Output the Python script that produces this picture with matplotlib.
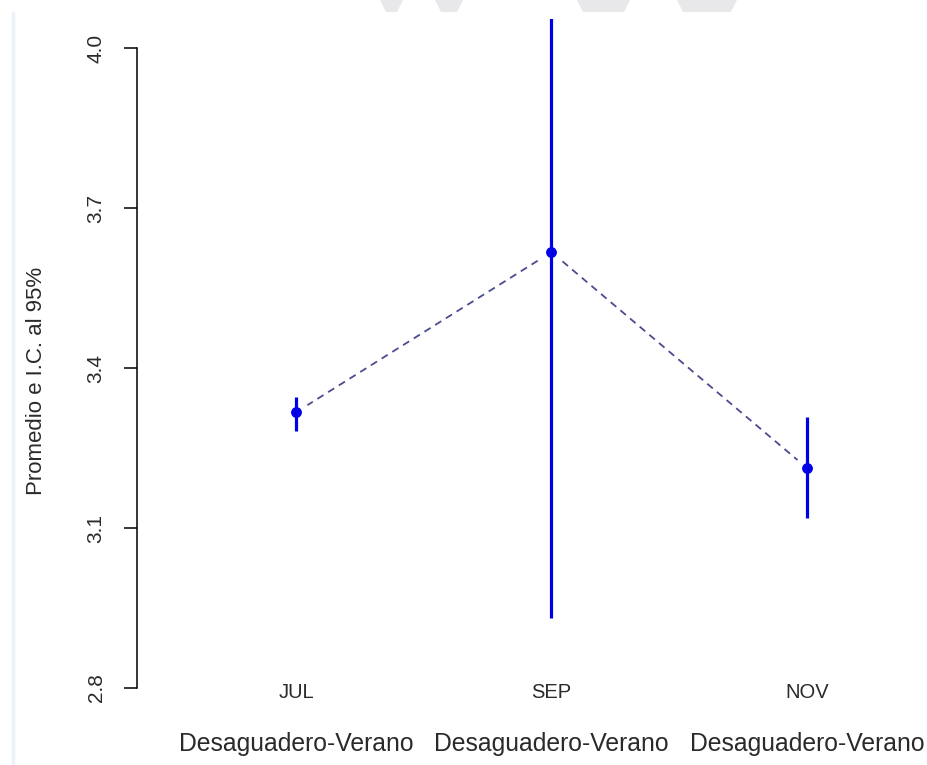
"""
Mean and 95% CI of the Desaguadero summer samples by month.
"""

import matplotlib.pyplot as plt
from matplotlib.patches import Polygon
from matplotlib.lines import Line2D

plt.rcParams["font.family"] = ["Liberation Sans", "DejaVu Sans"]

# --------------------------------------------------
# DATA
# --------------------------------------------------
months = ["JUL", "SEP", "NOV"]
groups = ["Desaguadero-Verano", "Desaguadero-Verano", "Desaguadero-Verano"]
means = [3.317, 3.6175, 3.2125]
ci_low = [3.282, 2.931, 3.119]
ci_high = [3.346, 4.060, 3.308]
y_ticks = [2.8, 3.1, 3.4, 3.7, 4.0]

BAR_COLOR = "#0000e8"
LINE_COLOR = "#4b4b8f"
TEXT_COLOR = "#2a2a2a"

fig = plt.figure(figsize=(9.28, 7.65), dpi=100)
ax = fig.add_axes([0.1476, 0.085, 0.8524, 0.890])

x = list(range(1, len(months) + 1))

# connecting dashed line, with a gap cut around each mean
ax.plot(x, means, color=LINE_COLOR, lw=1.3, dashes=(4, 3), zorder=1)
ax.plot(x, means, "o", ms=19, mfc="white", mec="none", zorder=2)

# confidence intervals and means
ax.vlines(x, ci_low, ci_high, color=BAR_COLOR, lw=2.3, zorder=3)
ax.plot(x, means, "o", ms=6.8, color=BAR_COLOR, zorder=4)

ax.set_xlim(0.3777, 3.4736)
ax.set_ylim(2.7775, 4.0544)

for side in ["top", "right", "bottom"]:
    ax.spines[side].set_visible(False)
ax.spines["left"].set_bounds(y_ticks[0], y_ticks[-1])
ax.spines["left"].set_linewidth(1.1)

ax.set_xticks([])
ax.set_yticks(y_ticks)
ax.set_yticklabels([f"{t:.1f}" for t in y_ticks], fontsize=15, color=TEXT_COLOR)
ax.tick_params(axis="y", length=9.5, width=1.1, pad=13, labelrotation=90)
for lbl in ax.get_yticklabels():
    lbl.set_va("center")

# month labels and group labels under each mean
xt = ax.get_xaxis_transform()
for xi, m, g in zip(x, months, groups):
    ax.text(xi, 0.0117, m, transform=xt, ha="center", va="center",
            fontsize=14.5, color=TEXT_COLOR, clip_on=False)
    ax.text(xi, -0.0645, g, transform=xt, ha="center", va="center",
            fontsize=17.8, color=TEXT_COLOR, clip_on=False)

fig.text(37 / 928, 1 - 381 / 765, "Promedio e I.C. al 95%", rotation=90,
         ha="center", va="center", fontsize=16, color=TEXT_COLOR)

# faint page edge on the left and the cut-off watermark along the top
fig.add_artist(Line2D([13 / 928, 13 / 928], [0, 1 - 13 / 765],
                      color="#edf2fa", lw=2.5))
marks = [(380, 403), (435, 463), (577, 630), (677, 737)]
for x0, x1 in marks:
    pts = [(x0 / 928, 1.0), (x1 / 928, 1.0),
           ((x1 - 6) / 928, 1 - 12 / 765), ((x0 + 6) / 928, 1 - 12 / 765)]
    fig.add_artist(Polygon(pts, closed=True, color="#e8e8ea", lw=0,
                           transform=fig.transFigure))

plt.savefig("out.png", dpi=100)
